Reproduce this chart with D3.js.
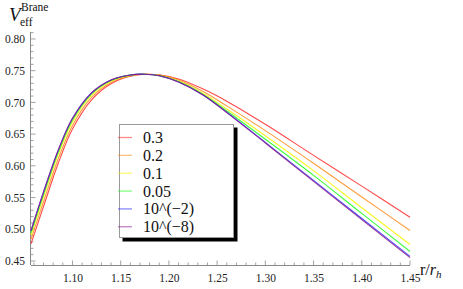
<!DOCTYPE html>
<html>
<head>
<meta charset="utf-8">
<script src="https://cdn.jsdelivr.net/npm/d3@7"></script>
<style>
  body { margin: 0; background: #fff; }
  svg { display: block; }
  svg text { font-family: "Liberation Serif", "DejaVu Serif", "Times New Roman", serif; }
</style>
</head>
<body>
<div id="chart"></div>
<script>
var svgWidth = 463;
var svgHeight = 289;
var serif = "'Liberation Serif', 'DejaVu Serif', serif";

// r / r_h sample points
var rValues = [1.057, 1.07, 1.085, 1.10, 1.12, 1.14, 1.16, 1.175, 1.19, 1.21, 1.235, 1.26, 1.30, 1.35, 1.40, 1.45];

// V_eff for each parameter value
var v03   = [0.477, 0.536, 0.603, 0.658, 0.7045, 0.7295, 0.7413, 0.7443, 0.7435, 0.7370, 0.7215, 0.7020, 0.6655, 0.6165, 0.568, 0.519];
var v02   = [0.484, 0.5437, 0.610, 0.6637, 0.7082, 0.7315, 0.7420, 0.7444, 0.7430, 0.7353, 0.7175, 0.6945, 0.6555, 0.6040, 0.551, 0.498];
var v01   = [0.491, 0.5513, 0.617, 0.6693, 0.7118, 0.7335, 0.7426, 0.7445, 0.7425, 0.7337, 0.7145, 0.6895, 0.6475, 0.5924, 0.534, 0.476];
var v005  = [0.4945, 0.5552, 0.6205, 0.6722, 0.7137, 0.7345, 0.7430, 0.7445, 0.7422, 0.7328, 0.7130, 0.6865, 0.6420, 0.5850, 0.525, 0.465];
var v1em2 = [0.4975, 0.5585, 0.6235, 0.6745, 0.7152, 0.7354, 0.7433, 0.7445, 0.7420, 0.7322, 0.7122, 0.6845, 0.6370, 0.5770, 0.517, 0.4574];
var v1em8 = [0.498, 0.559, 0.624, 0.675, 0.7155, 0.7355, 0.7433, 0.7445, 0.7420, 0.7320, 0.7120, 0.6840, 0.6360, 0.5755, 0.5153, 0.4554];

var seriesNames = ["0.3", "0.2", "0.1", "0.05", "10^(\u22122)", "10^(\u22128)"];
var seriesColors = ["#ff2a2a", "#ff8c1a", "#f5f500", "#1aff1a", "#2a2aff", "#8a1a8a"];
var seriesValues = [v03, v02, v01, v005, v1em2, v1em8];

var xTicks = [1.10, 1.15, 1.20, 1.25, 1.30, 1.35, 1.40, 1.45];
var yTicks = [0.45, 0.50, 0.55, 0.60, 0.65, 0.70, 0.75, 0.80];

var svg = d3.select("#chart")
  .append("svg")
  .attr("width", svgWidth)
  .attr("height", svgHeight);

var xScale = d3.scaleLinear().domain([1.057, 1.45]).range([31, 410]);
var yScale = d3.scaleLinear().domain([0.4437, 0.811]).range([265, 32]);

var axisColor = "#8a8a8a";

// minor ticks every 0.01
var xMinor = d3.range(106, 146).map(d => d / 100);
var yMinor = d3.range(45, 82).map(d => d / 100);

// x axis (ticks point up into the plot)
var xAxis = svg.append("g")
  .attr("transform", "translate(0,265)")
  .call(d3.axisBottom(xScale).tickValues(xTicks).tickSize(0).tickPadding(9)
    .tickFormat(d3.format(".2f")));
xAxis.attr("font-family", serif).attr("font-size", 11.5);
xAxis.select(".domain").attr("stroke", axisColor).attr("d", "M31,0.5H410");
xAxis.selectAll("text").attr("fill", "#222");
svg.append("g").selectAll("line")
  .data(xMinor)
  .enter()
  .append("line")
  .attr("x1", d => xScale(d))
  .attr("x2", d => xScale(d))
  .attr("y1", 265)
  .attr("y2", d => xTicks.some(t => Math.abs(t - d) < 1e-6) ? 260.5 : 262.5)
  .attr("stroke", axisColor)
  .attr("stroke-width", 0.8);

// y axis (ticks point right into the plot)
var yAxis = svg.append("g")
  .attr("transform", "translate(31,0)")
  .call(d3.axisLeft(yScale).tickValues(yTicks).tickSize(0).tickPadding(6)
    .tickFormat(d3.format(".2f")));
yAxis.attr("font-family", serif).attr("font-size", 11.5);
yAxis.select(".domain").attr("stroke", axisColor).attr("d", "M-0.5,265V32");
yAxis.selectAll("text").attr("fill", "#222");
svg.append("g").selectAll("line")
  .data(yMinor)
  .enter()
  .append("line")
  .attr("x1", 31)
  .attr("x2", d => yTicks.some(t => Math.abs(t - d) < 1e-6) ? 35.5 : 33.5)
  .attr("y1", d => yScale(d))
  .attr("y2", d => yScale(d))
  .attr("stroke", axisColor)
  .attr("stroke-width", 0.8);

// curves
var line = d3.line()
  .x((d, i) => xScale(rValues[i]))
  .y(d => yScale(d))
  .curve(d3.curveCatmullRom.alpha(0.5));

svg.append("g").selectAll("path")
  .data(seriesValues)
  .enter()
  .append("path")
  .attr("d", d => line(d))
  .attr("fill", "none")
  .attr("stroke", (d, i) => seriesColors[i])
  .attr("stroke-width", 1.1)
  .attr("stroke-opacity", 0.85);

// axis labels
svg.append("text").attr("x", 9).attr("y", 21).attr("fill", "#111")
  .attr("font-style", "italic").attr("font-size", 19).text("V");
svg.append("text").attr("x", 20).attr("y", 25.5).attr("font-size", 11.5).attr("fill", "#111").text("eff");
svg.append("text").attr("x", 21).attr("y", 11).attr("font-size", 11.5).attr("fill", "#111").text("Brane");

var xLabel = svg.append("text").attr("x", 420).attr("y", 275).attr("font-size", 16).attr("fill", "#111");
xLabel.append("tspan").text("r/");
xLabel.append("tspan").attr("font-style", "italic").text("r");
xLabel.append("tspan").attr("font-style", "italic").attr("font-size", 11).attr("dy", 3).text("h");

// legend with drop shadow
var legend = svg.append("g");
legend.append("rect")
  .attr("x", 122.5).attr("y", 127.5).attr("width", 115).attr("height", 114)
  .attr("fill", "#000");
legend.append("rect")
  .attr("x", 119.5).attr("y", 124.5).attr("width", 114).attr("height", 113)
  .attr("fill", "#fff").attr("stroke", "#999").attr("stroke-width", 1);

var rows = legend.selectAll(".row")
  .data(seriesNames)
  .enter()
  .append("g")
  .attr("transform", (d, i) => `translate(0, ${137.5 + i * 17.85})`);
rows.append("line")
  .attr("x1", 118).attr("x2", 132).attr("y1", 0).attr("y2", 0)
  .attr("stroke", (d, i) => seriesColors[i])
  .attr("stroke-opacity", 0.55)
  .attr("stroke-width", 1.3);
rows.append("text")
  .attr("x", 143).attr("y", 5.5)
  .attr("font-size", 16)
  .attr("fill", "#111")
  .text(d => d);
</script>
</body>
</html>
